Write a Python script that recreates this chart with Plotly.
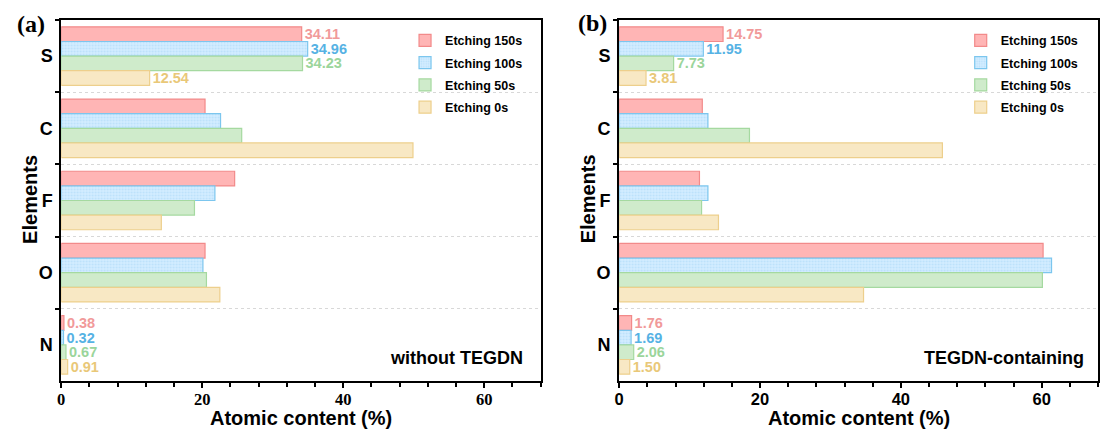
import plotly.graph_objects as go

elements = ["S", "C", "F", "O", "N"]
series_names = ["Etching 150s", "Etching 100s", "Etching 50s", "Etching 0s"]

# Panel (a): without TEGDN
a_150 = [34.11, 20.4, 24.6, 20.4, 0.38]
a_100 = [34.96, 22.6, 21.8, 20.1, 0.32]
a_50 = [34.23, 25.6, 18.9, 20.6, 0.67]
a_0 = [12.54, 49.9, 14.2, 22.5, 0.91]

# Panel (b): TEGDN-containing
b_150 = [14.75, 11.8, 11.4, 60.2, 1.76]
b_100 = [11.95, 12.6, 12.6, 61.4, 1.69]
b_50 = [7.73, 18.5, 11.7, 60.1, 2.06]
b_0 = [3.81, 45.9, 14.1, 34.7, 1.50]

labeled = ["S", "N"]
x_ticks = [0, 20, 40, 60]

fills = ["#FFB5B5", "#D3ECFF", "#CFEBCB", "#F8E8C4"]
borders = ["#F28A8A", "#7CC6EE", "#A5D9A0", "#EDCF8C"]
textcols = ["#F19A9A", "#56B2E4", "#9BD59B", "#E9C878"]

SANS = "Liberation Sans, Arial"
SERIF = "Liberation Serif, Times New Roman"

fig = go.Figure()

def add_panel(vals, xa, ya, legend_name, tag):
    for i, (name, v) in enumerate(zip(series_names, vals)):
        txt = [f"{val:.2f}" if el in labeled else "" for el, val in zip(elements, v)]
        marker = dict(color=fills[i], line=dict(color=borders[i], width=1.2))
        if i == 1:
            marker["pattern"] = dict(shape=".", fgcolor="#9FD3F5", size=3, solidity=0.3)
        fig.add_trace(go.Bar(
            y=elements, x=v, name=name, orientation="h",
            xaxis=xa, yaxis=ya, legend=legend_name, legendgroup=f"{tag}{i}",
            marker=marker,
            text=txt, textposition="outside", constraintext="none",
            textfont=dict(family=SANS, size=14.5, color=textcols[i], weight="bold"),
            cliponaxis=False,
        ))

add_panel([a_150, a_100, a_50, a_0], "x", "y", "legend", "a")
add_panel([b_150, b_100, b_50, b_0], "x2", "y2", "legend2", "b")

ydom = [1 - 381 / 430, 1 - 20 / 430]
xa_dom = [56.5 / 1101, 538 / 1101]
xb_dom = [617 / 1101, 1098 / 1101]

def xaxis(domain, anchor, serif):
    fam = SERIF if serif else SANS
    return dict(
        domain=domain, anchor=anchor, range=[0, 68],
        tickvals=x_ticks, ticks="outside", ticklen=5, tickwidth=2, tickcolor="black",
        ticklabelstandoff=-3,
        minor=dict(dtick=4, tick0=0, ticks="outside", ticklen=4, tickwidth=2, tickcolor="black"),
        showline=True, linecolor="black", linewidth=2, mirror=True,
        showgrid=False, zeroline=False,
        tickfont=dict(family=fam, size=16.5, color="black", weight="bold"),
    )

def yaxis(anchor):
    return dict(
        domain=ydom, anchor=anchor, type="category",
        categoryorder="array", categoryarray=elements, autorange="reversed",
        tickson="boundaries", ticks="outside", ticklen=4, tickwidth=2, tickcolor="black",
        ticklabelstandoff=3,
        showline=True, linecolor="black", linewidth=2, mirror=True,
        showgrid=True, gridcolor="#D8D8D8", griddash="dot", gridwidth=1,
        tickfont=dict(family=SANS, size=18, color="black", weight="bold"),
    )

legend_style = dict(
    bgcolor="rgba(0,0,0,0)", borderwidth=0, traceorder="grouped",
    font=dict(family=SANS, size=12.5, color="black", weight="bold"),
    itemwidth=30, tracegroupgap=3, xanchor="left", yanchor="top",
)

def ann(text, x, y, size, family=SANS, angle=0, xanchor="center"):
    return dict(text=text, x=x, y=y, xref="paper", yref="paper", xanchor=xanchor, yanchor="middle",
                textangle=angle, showarrow=False,
                font=dict(family=family, size=size, color="black", weight="bold"))

fig.update_layout(
    width=1101, height=430, margin=dict(l=0, r=0, t=0, b=0),
    paper_bgcolor="white", plot_bgcolor="white",
    barmode="group", bargap=0.19, bargroupgap=0,
    xaxis=xaxis(xa_dom, "y", True),
    yaxis=yaxis("x"),
    xaxis2=xaxis(xb_dom, "y2", False),
    yaxis2=yaxis("x2"),
    legend=dict(x=0.365, y=0.94, **legend_style),
    legend2=dict(x=0.872, y=0.94, **legend_style),
    annotations=[
        ann("(a)", 26 / 1101, 1 - 24 / 430, 24, SERIF),
        ann("(b)", 590 / 1101, 1 - 23 / 430, 24, SERIF),
        ann("without TEGDN", 454 / 1101, 1 - 358 / 430, 18),
        ann("TEGDN-containing", 1004 / 1101, 1 - 358 / 430, 18),
        ann("Atomic content (%)", 297 / 1101, 1 - 417.5 / 430, 20),
        ann("Atomic content (%)", 857.5 / 1101, 1 - 417.5 / 430, 20),
        ann("Elements", 25 / 1101, 1 - 199 / 430, 20, angle=-90),
        ann("Elements", 586 / 1101, 1 - 199 / 430, 20, angle=-90),
    ],
)

fig.write_html("out.html")
